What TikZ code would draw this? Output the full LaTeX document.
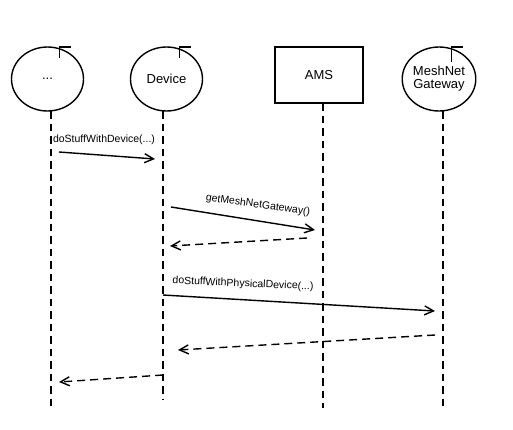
\documentclass[tikz,border=0pt]{standalone}
\usepackage{fontspec}
\setmainfont{Liberation Sans}
\usetikzlibrary{arrows.meta,shapes.geometric}
\begin{document}
\begin{tikzpicture}[x=1pt,y=-1pt,line width=1.4pt,
  objell/.style={draw,ellipse,minimum width=72pt,minimum height=64pt,inner sep=0pt,align=center,font=\fontsize{13}{15}\selectfont},
  objbox/.style={draw,rectangle,minimum width=88pt,minimum height=56pt,inner sep=0pt,font=\fontsize{13}{15}\selectfont},
  life/.style={line width=1.4pt,dash pattern=on 7.5pt off 5pt},
  msg/.style={-{Straight Barb[length=9pt,width=9pt,line width=1.4pt]}},
  ret/.style={msg,dash pattern=on 8pt off 5pt},
  lbl/.style={font=\fontsize{10.5}{12}\selectfont,inner sep=0pt}]
\useasboundingbox (0,0) rectangle (513,429);
% objects
\node[objell] (o1) at (47.5,79) {...};
\node[objell] (o2) at (166.5,79) {Device};
\node[objbox] (o3) at (319,75) {AMS};
\node[objell] (o4) at (439,79) {MeshNet\\[-2pt]Gateway};
% ticks
\draw (59.5,58) -- (59.5,47) -- (71,47);
\draw (179.5,58) -- (179.5,47) -- (191,47);
\draw (451.5,62) -- (451.5,47) -- (463,47);
% lifelines
\coordinate (t1) at (51,111); \coordinate (b1) at (51,408);
\coordinate (t2) at (163,111); \coordinate (b2) at (163,400);
\coordinate (t3) at (323,103); \coordinate (b3) at (323,408);
\coordinate (t4) at (443,111); \coordinate (b4) at (443,408);
\draw[life] (t1) -- (b1);
\draw[life] (t2) -- (b2);
\draw[life] (t3) -- (b3);
\draw[life] (t4) -- (b4);
% messages
\coordinate (m1s) at (59,152); \coordinate (m1e) at (155,159);
\draw[msg] (m1s) -- (m1e);
\node[lbl] (l1) at (104,140) {doStuffWithDevice(...)};
\coordinate (m2s) at (171,207); \coordinate (m2e) at (315,230);
\draw[msg] (m2s) -- (m2e);
\node[lbl,rotate=-8] (l2) at (258,205) {getMeshNetGateway()};
\coordinate (r2s) at (307,238); \coordinate (r2e) at (170,246);
\draw[ret] (r2s) -- (r2e);
\coordinate (m3s) at (163,295); \coordinate (m3e) at (435,311);
\draw[msg] (m3s) -- (m3e);
\node[lbl,rotate=-2.5] (l3) at (243,284) {doStuffWithPhysicalDevice(...)};
\coordinate (r3s) at (435,335); \coordinate (r3e) at (178,350);
\draw[ret] (r3s) -- (r3e);
\coordinate (r4s) at (163,375); \coordinate (r4e) at (59,382);
\draw[ret] (r4s) -- (r4e);
\end{tikzpicture}
\end{document}
